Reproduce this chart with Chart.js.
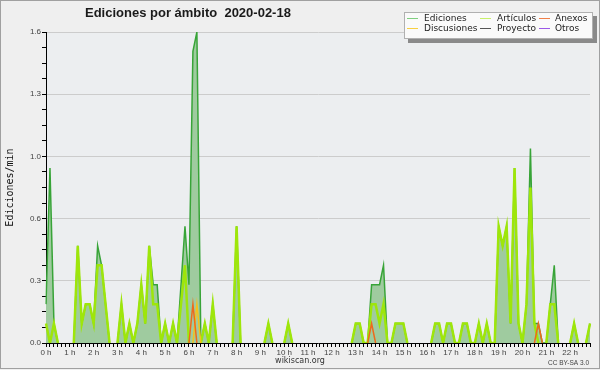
<!DOCTYPE html>
<html>
<head>
<meta charset="utf-8">
<script src="https://cdn.jsdelivr.net/npm/chart.js@4"></script>
<style>
  body { margin: 0; background: #efefef; }
  #wrap { width: 600px; height: 370px; }
</style>
</head>
<body>
<div id="wrap"><canvas id="chart" width="600" height="370"></canvas></div>
<script>
// 10-minute bins starting at 0:00, values in edits per minute (one row = one hour)
const hourLabels = ['0 h', '1 h', '2 h', '3 h', '4 h', '5 h', '6 h', '7 h', '8 h', '9 h', '10 h', '11 h',
  '12 h', '13 h', '14 h', '15 h', '16 h', '17 h', '18 h', '19 h', '20 h', '21 h', '22 h'];
const yTickLabels = ['0.0', '0.3', '0.6', '1.0', '1.3', '1.6'];

const ediciones = [
  0.2, 0.9, 0.1, 0, 0, 0,
  0, 0, 0.5, 0.1, 0.2, 0.2,
  0.1, 0.5, 0.4, 0.2, 0, 0,
  0, 0.2, 0, 0.1, 0, 0.1,
  0.3, 0.1, 0.5, 0.3, 0.3, 0,
  0.1, 0, 0.1, 0, 0.3, 0.6,
  0.3, 1.5, 1.6, 0, 0.1, 0,
  0.2, 0, 0, 0, 0, 0,
  0.6, 0, 0, 0, 0, 0,
  0, 0, 0.1, 0, 0, 0,
  0, 0.1, 0, 0, 0, 0,
  0, 0, 0, 0, 0, 0,
  0, 0, 0, 0, 0, 0,
  0.1, 0.1, 0, 0, 0.3, 0.3,
  0.3, 0.4, 0, 0, 0.1, 0.1,
  0.1, 0, 0, 0, 0, 0,
  0, 0, 0.1, 0.1, 0, 0.1,
  0.1, 0, 0, 0.1, 0.1, 0,
  0, 0.1, 0, 0.1, 0, 0,
  0.6, 0.5, 0.6, 0.1, 0.9, 0.1,
  0, 0.2, 1.0, 0.1, 0.1, 0,
  0, 0.2, 0.4, 0, 0, 0,
  0, 0.1, 0, 0, 0, 0.1
];
const articulos = [
  0.1, 0, 0.1, 0, 0, 0,
  0, 0, 0.5, 0.1, 0.2, 0.2,
  0.1, 0.4, 0.4, 0.2, 0, 0,
  0, 0.2, 0, 0.1, 0, 0.1,
  0.3, 0.1, 0.5, 0.2, 0.2, 0,
  0.1, 0, 0.1, 0, 0.2, 0.4,
  0, 0, 0, 0, 0.1, 0,
  0.2, 0, 0, 0, 0, 0,
  0.6, 0, 0, 0, 0, 0,
  0, 0, 0.1, 0, 0, 0,
  0, 0.1, 0, 0, 0, 0,
  0, 0, 0, 0, 0, 0,
  0, 0, 0, 0, 0, 0,
  0.1, 0.1, 0, 0, 0.2, 0.2,
  0.1, 0.2, 0, 0, 0.1, 0.1,
  0.1, 0, 0, 0, 0, 0,
  0, 0, 0.1, 0.1, 0, 0.1,
  0.1, 0, 0, 0.1, 0.1, 0,
  0, 0.1, 0, 0.1, 0, 0,
  0.6, 0.5, 0.6, 0.1, 0.9, 0.1,
  0, 0.2, 0.8, 0.1, 0, 0,
  0, 0.2, 0.2, 0, 0, 0,
  0, 0.1, 0, 0, 0, 0.1
];
const anexos = [
  0, 0, 0, 0, 0, 0,
  0, 0, 0, 0, 0, 0,
  0, 0, 0, 0, 0, 0,
  0, 0, 0, 0, 0, 0,
  0, 0, 0, 0, 0, 0,
  0, 0, 0, 0, 0, 0,
  0, 0.2, 0, 0, 0, 0,
  0, 0, 0, 0, 0, 0,
  0, 0, 0, 0, 0, 0,
  0, 0, 0, 0, 0, 0,
  0, 0, 0, 0, 0, 0,
  0, 0, 0, 0, 0, 0,
  0, 0, 0, 0, 0, 0,
  0, 0, 0, 0, 0.1, 0,
  0, 0, 0, 0, 0, 0,
  0, 0, 0, 0, 0, 0,
  0, 0, 0, 0, 0, 0,
  0, 0, 0, 0, 0, 0,
  0, 0, 0, 0, 0, 0,
  0, 0, 0, 0, 0, 0,
  0, 0, 0, 0, 0.1, 0,
  0, 0, 0, 0, 0, 0,
  0, 0, 0, 0, 0, 0
];
const discusiones = [
  0, 0, 0, 0, 0, 0,
  0, 0, 0, 0, 0, 0,
  0, 0, 0, 0, 0, 0,
  0, 0, 0, 0, 0, 0,
  0, 0, 0, 0, 0, 0,
  0, 0, 0, 0, 0, 0,
  0, 0, 0.2, 0, 0, 0,
  0, 0, 0, 0, 0, 0,
  0, 0, 0, 0, 0, 0,
  0, 0, 0, 0, 0, 0,
  0, 0, 0, 0, 0, 0,
  0, 0, 0, 0, 0, 0,
  0, 0, 0, 0, 0, 0,
  0, 0, 0, 0, 0, 0,
  0, 0, 0, 0, 0, 0,
  0, 0, 0, 0, 0, 0,
  0, 0, 0, 0, 0, 0,
  0, 0, 0, 0, 0, 0,
  0, 0, 0, 0, 0, 0,
  0, 0, 0, 0, 0, 0,
  0, 0, 0, 0, 0, 0,
  0, 0, 0, 0, 0, 0,
  0, 0, 0, 0, 0, 0
];
const proyecto = [
  0, 0, 0, 0, 0, 0,  0, 0, 0, 0, 0, 0,  0, 0, 0, 0, 0, 0,  0, 0, 0, 0, 0, 0,
  0, 0, 0, 0, 0, 0,  0, 0, 0, 0, 0, 0,  0, 0, 0, 0, 0, 0,  0, 0, 0, 0, 0, 0,
  0, 0, 0, 0, 0, 0,  0, 0, 0, 0, 0, 0,  0, 0, 0, 0, 0, 0,  0, 0, 0, 0, 0, 0,
  0, 0, 0, 0, 0, 0,  0, 0, 0, 0, 0, 0,  0, 0, 0, 0, 0, 0,  0, 0, 0, 0, 0, 0,
  0, 0, 0, 0, 0, 0,  0, 0, 0, 0, 0, 0,  0, 0, 0, 0, 0, 0,  0, 0, 0, 0, 0, 0,
  0, 0, 0, 0, 0, 0,  0, 0, 0, 0, 0, 0,  0, 0, 0, 0, 0, 0
];
const otros = [
  0, 0, 0, 0, 0, 0,  0, 0, 0, 0, 0, 0,  0, 0, 0, 0, 0, 0,  0, 0, 0, 0, 0, 0,
  0, 0, 0, 0, 0, 0,  0, 0, 0, 0, 0, 0,  0, 0, 0, 0, 0, 0,  0, 0, 0, 0, 0, 0,
  0, 0, 0, 0, 0, 0,  0, 0, 0, 0, 0, 0,  0, 0, 0, 0, 0, 0,  0, 0, 0, 0, 0, 0,
  0, 0, 0, 0, 0, 0,  0, 0, 0, 0, 0, 0,  0, 0, 0, 0, 0, 0,  0, 0, 0, 0, 0, 0,
  0, 0, 0, 0, 0, 0,  0, 0, 0, 0, 0, 0,  0, 0, 0, 0, 0, 0,  0, 0, 0, 0, 0, 0,
  0, 0, 0, 0, 0, 0,  0, 0, 0, 0, 0, 0,  0, 0, 0, 0, 0, 0
];

// legend order: row 1 = first three, row 2 = last three
const series = [
  { label: 'Ediciones', data: ediciones, color: '#38a438', key: '#7fcf7f', fillColor: '#9fcb9f', width: 1.5, order: 5 },
  { label: 'Artículos', data: articulos, color: '#9ee60a', key: '#c8f06a', width: 2.5, order: 2 },
  { label: 'Anexos', data: anexos, color: '#ee6a1c', key: '#f08048', width: 1.5, order: 1 },
  { label: 'Discusiones', data: discusiones, color: '#f4c21a', key: '#f8d040', width: 1.5, order: 1 },
  { label: 'Proyecto', data: proyecto, color: '#555555', key: '#555555', width: 1.5, order: 3 },
  { label: 'Otros', data: otros, color: '#9b59e8', key: '#9b59e8', width: 1.5, order: 3 }
];

const labels = ediciones.map((v, i) => i % 6 === 0 ? hourLabels[i / 6] : '');

// long runs of zero are not drawn, only the zero ends of each bump
function trimZeros(arr) {
  return arr.map((v, i) => (v === 0 && !arr[i - 1] && !arr[i + 1]) ? null : v);
}

const decor = {
  id: 'decor',
  beforeDraw(chart) {
    const { ctx, chartArea: a } = chart;
    ctx.save();
    ctx.fillStyle = '#efefef';
    ctx.fillRect(0, 0, chart.width, chart.height);
    ctx.fillStyle = '#eceef0';
    ctx.fillRect(a.left, a.top, a.right - a.left, a.bottom - a.top);
    ctx.restore();
  },
  afterDraw(chart) {
    const ctx = chart.ctx;
    ctx.save();
    // title
    ctx.fillStyle = '#1a1a1a';
    ctx.font = 'bold 13px "Liberation Sans"';
    ctx.textBaseline = 'middle';
    ctx.textAlign = 'left';
    ctx.fillText('Ediciones por ámbito  2020-02-18', 85, 13);

    // legend box
    ctx.fillStyle = '#8a8a8a';
    ctx.fillRect(408, 16, 189, 27);
    ctx.fillStyle = '#fafafa';
    ctx.fillRect(404, 12, 189, 27);
    ctx.strokeStyle = '#b0b0b0';
    ctx.lineWidth = 1;
    ctx.strokeRect(404.5, 12.5, 188, 26);
    const colX = [407, 480, 539];
    const textX = [424, 497, 555];
    const rowY = [19, 29];
    ctx.font = '9px "DejaVu Sans"';
    series.forEach((s, i) => {
      const c = i % 3, r = Math.floor(i / 3);
      ctx.strokeStyle = s.key;
      ctx.lineWidth = 1;
      ctx.beginPath();
      ctx.moveTo(colX[c], rowY[r] - 0.5);
      ctx.lineTo(colX[c] + 11, rowY[r] - 0.5);
      ctx.stroke();
      ctx.fillStyle = '#222';
      ctx.fillText(s.label, textX[c], rowY[r]);
    });

    // footer
    ctx.fillStyle = '#333';
    ctx.font = '8px "DejaVu Sans"';
    ctx.textAlign = 'center';
    ctx.fillText('wikiscan.org', 300, 361);
    ctx.fillStyle = '#444';
    ctx.font = '6.5px "Liberation Sans"';
    ctx.textAlign = 'right';
    ctx.fillText('CC BY-SA 3.0', 589, 363);

    // outer frame
    ctx.strokeStyle = '#a0a0a0';
    ctx.strokeRect(0.5, 0.5, 599, 368);
    ctx.restore();
  }
};

new Chart(document.getElementById('chart'), {
  type: 'line',
  data: {
    labels: labels,
    datasets: series.map(s => ({
      label: s.label,
      data: trimZeros(s.data),
      borderColor: s.color,
      backgroundColor: s.fillColor || s.color,
      borderWidth: s.width,
      fill: s.fillColor ? 'origin' : false,
      order: s.order,
      pointRadius: 0,
      tension: 0,
      spanGaps: false
    }))
  },
  options: {
    responsive: false,
    animation: false,
    devicePixelRatio: 1,
    layout: { padding: { left: 0, right: 10, top: 32, bottom: 0 } },
    plugins: {
      legend: { display: false },
      title: { display: false },
      tooltip: { enabled: false }
    },
    scales: {
      x: {
        type: 'category',
        grid: { drawOnChartArea: false, drawTicks: true, tickLength: 4, tickColor: '#000' },
        border: { color: '#000', width: 1 },
        ticks: {
          autoSkip: false, maxRotation: 0, minRotation: 0, padding: 1,
          color: '#444', font: { family: 'Liberation Sans', size: 8 }
        },
        afterFit: s => { s.height = 27; }
      },
      y: {
        min: 0,
        max: 1.6,
        ticks: {
          stepSize: 0.08, padding: 1, color: '#444',
          font: { family: 'Liberation Sans', size: 8 },
          callback: (v, i) => i % 4 === 0 ? yTickLabels[i / 4] : ''
        },
        grid: {
          color: c => (c.index % 4 === 0 && c.index > 0) ? '#cccccc' : 'rgba(0,0,0,0)',
          tickColor: '#000',
          tickLength: 4
        },
        border: { color: '#000', width: 1 },
        title: {
          display: true,
          text: 'Ediciones/min',
          color: '#111',
          font: { family: 'DejaVu Sans Mono', size: 10 },
          padding: { top: 4, bottom: 0 }
        },
        afterFit: s => { s.width = 46; }
      }
    }
  },
  plugins: [decor]
});
</script>
</body>
</html>
